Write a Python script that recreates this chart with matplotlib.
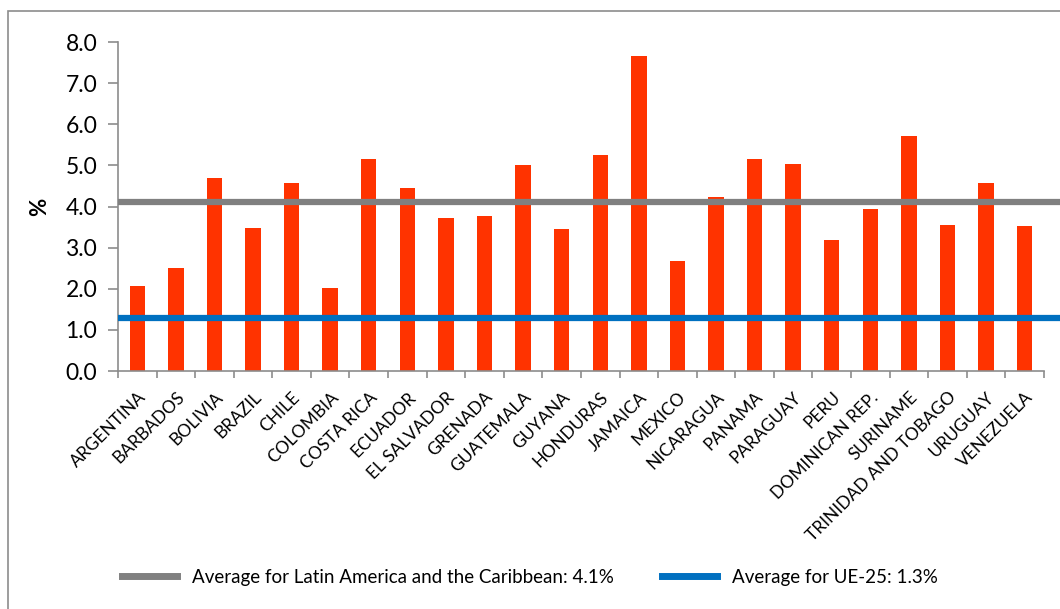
import matplotlib
matplotlib.use("Agg")
import matplotlib.pyplot as plt
from matplotlib.lines import Line2D
from matplotlib.patches import Rectangle
import numpy as np

plt.rcParams["font.family"] = ["Lato", "DejaVu Sans"]

countries = ["ARGENTINA", "BARBADOS", "BOLIVIA", "BRAZIL", "CHILE", "COLOMBIA",
             "COSTA RICA", "ECUADOR", "EL SALVADOR", "GRENADA", "GUATEMALA",
             "GUYANA", "HONDURAS", "JAMAICA", "MEXICO", "NICARAGUA", "PANAMA",
             "PARAGUAY", "PERU", "DOMINICAN REP.", "SURINAME",
             "TRINIDAD AND TOBAGO", "URUGUAY", "VENEZUELA"]
values = [2.06, 2.51, 4.70, 3.48, 4.58, 2.03, 5.15, 4.45, 3.72, 3.76, 5.01,
          3.45, 5.26, 7.65, 2.67, 4.23, 5.15, 5.04, 3.19, 3.94, 5.72, 3.54,
          4.57, 3.53]
avg_lac = 4.1
avg_ue25 = 1.3

BAR = "#FF3300"
GREY = "#808080"
BLUE = "#0070C0"
AXIS = "#8c8c8c"

fig = plt.figure(figsize=(10.6, 6.09), dpi=100)
# outer chart border, cut off at the right and bottom
fig.patches.append(Rectangle((8 / 1060, -0.1), 1.2, 1.1 - 11 / 609,
                             transform=fig.transFigure, fill=False,
                             edgecolor=AXIS, lw=1.2))

ax = fig.add_axes([0.1113, 0.3908, 0.8736, 0.5402])
x = np.arange(len(countries))
ax.bar(x, values, width=0.4, color=BAR, zorder=2)

# average lines run a little past the plot area
ax.plot([-0.5, 24.2], [avg_lac, avg_lac], color=GREY, lw=4.5, clip_on=False,
        zorder=3, solid_capstyle="butt")
ax.plot([-0.5, 24.2], [avg_ue25, avg_ue25], color=BLUE, lw=4.5, clip_on=False,
        zorder=3, solid_capstyle="butt")

ax.set_xlim(-0.5, len(countries) - 0.5)
ax.set_ylim(0, 8)
ax.set_yticks(np.arange(0, 8.01, 1.0))
ax.set_yticklabels([f"{v:.1f}" for v in np.arange(0, 8.01, 1.0)], fontsize=16.5)
ax.set_xticks(x)
ax.set_xticklabels(countries, rotation=45, ha="right", rotation_mode="anchor",
                   fontsize=12.5)
ax.set_xticks(np.arange(-0.5, len(countries), 1.0), minor=True)
ax.tick_params(axis="x", which="major", length=0, pad=13)
ax.tick_params(axis="x", which="minor", length=5, color=AXIS, width=1.2)
ax.tick_params(axis="y", length=7, color=AXIS, width=1.2, pad=8)
for s in ("top", "right"):
    ax.spines[s].set_visible(False)
for s in ("left", "bottom"):
    ax.spines[s].set_color(AXIS)
    ax.spines[s].set_linewidth(1.2)

ax.set_ylabel("%", fontsize=16, fontweight="bold", labelpad=11)

handles = [Line2D([0], [0], color=GREY, lw=5,
                  label="Average for Latin America and the Caribbean: 4.1%"),
           Line2D([0], [0], color=BLUE, lw=5, label="Average for UE-25: 1.3%")]
fig.legend(handles=handles, loc="center", bbox_to_anchor=(0.5, 0.052), ncol=2,
           frameon=False, fontsize=13.5, handlelength=2.9, columnspacing=2.6,
           handletextpad=0.8)

fig.savefig("out.png", dpi=100, facecolor="white")
